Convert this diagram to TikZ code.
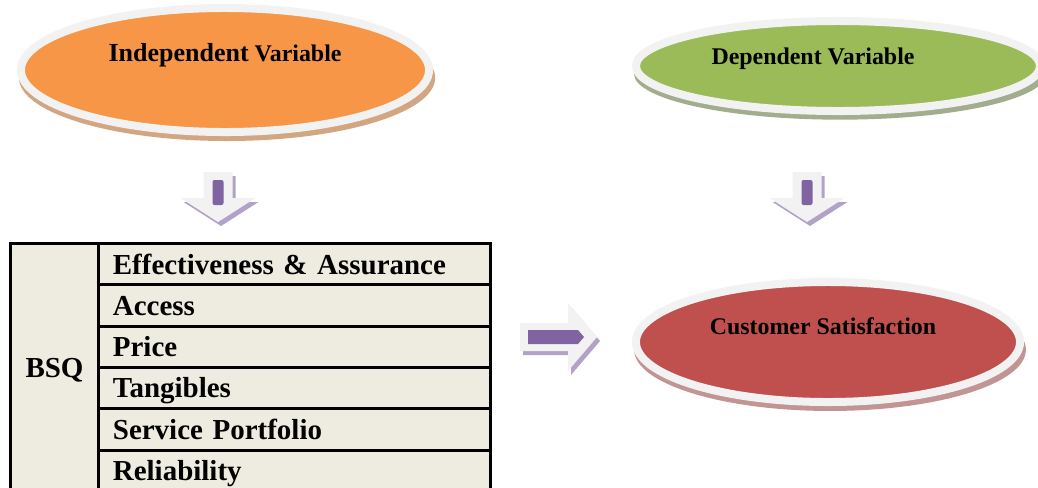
\documentclass[tikz,border=0pt]{standalone}
\usepackage{fontspec}
\setmainfont{Liberation Serif}
\usetikzlibrary{shapes.geometric,shadows}

\definecolor{ivorange}{HTML}{F79646}
\definecolor{dvgreen}{HTML}{9BBB59}
\definecolor{csred}{HTML}{C0504D}
\definecolor{ringgray}{HTML}{F2F2F2}
\definecolor{orangeshade}{HTML}{D3A682}
\definecolor{greenshade}{HTML}{A2AD8E}
\definecolor{redshade}{HTML}{C29494}
\definecolor{barpurple}{HTML}{8064A2}
\definecolor{arrowshade}{HTML}{B3A2C7}
\definecolor{paper}{HTML}{EEECE1}

\tikzset{
    oval/.style={ellipse, draw=ringgray, line width=0.2cm, inner sep=0pt},
    ovalshade/.style={general shadow={fill=#1, shadow xshift=0.05cm, shadow yshift=-0.19cm, shadow scale=1.02}},
    ovaltext/.style={font=\bfseries\fontsize{17}{20}\selectfont},
    box/.style={draw, line width=0.075cm, fill=paper, inner sep=0pt, anchor=north west,
        text height=1.45em, text depth=0.05em, font=\bfseries\fontsize{20.6}{24}\selectfont},
    cell/.style={box, inner xsep=0.36cm, text width=9.08cm, minimum height=1.0325cm, align=left},
    downarrow/.pic={
        \foreach \dx/\dy/\c in {3/4/arrowshade, 0/0/ringgray}
            \fill[\c, shift={(\dx,\dy)}] (-14.5,0) -- (14.5,0) -- (14.5,26) -- (37.5,26)
                -- (0,50) -- (-37.5,26) -- (-14.5,26) -- cycle;
        \fill[barpurple, rounded corners=0.05cm] (-5.5,8) rectangle (5.5,33);
    },
    rightarrow/.pic={
        \foreach \dx/\dy/\c in {3/4/arrowshade, 0/0/ringgray}
            \fill[\c, shift={(\dx,\dy)}] (0,-14) -- (48,-14) -- (48,-34) -- (77,0)
                -- (48,34) -- (48,14) -- (0,14) -- cycle;
        \fill[barpurple] (8,-7) -- (58,-7) -- (64,0) -- (58,7) -- (8,7) -- cycle;
    }
}

\begin{document}
\begin{tikzpicture}[x=0.025cm, y=-0.025cm]
    \useasboundingbox (0,0) rectangle (1038,487);

    % variables
    \node[oval, fill=ivorange, minimum width=10.2cm, minimum height=3.1cm, ovalshade=orangeshade,
        label={[ovaltext, yshift=0.37cm]center:{{\fontsize{18.5}{22}\selectfont Independent} Variable}}]
        (indep) at (225,70) {};
    \node[oval, fill=dvgreen, minimum width=10.1cm, minimum height=2.25cm, ovalshade=greenshade,
        label={[ovaltext, xshift=-0.625cm, yshift=0.17cm]center:Dependent Variable}]
        (dep) at (838,66) {};
    \node[oval, fill=csred, minimum width=9.6cm, minimum height=3cm, ovalshade=redshade,
        label={[ovaltext, xshift=-0.125cm, yshift=0.4cm]center:Customer Satisfaction}]
        (custsat) at (828,342) {};

    % arrows
    \pic at (218,172) {downarrow};
    \pic at (807,172) {downarrow};
    \pic at (520,337) {rightarrow};

    % BSQ table
    \node[box, minimum width=2.2cm, minimum height=6.2cm] (bsq) at (9,242) {BSQ};
    \foreach \t [count=\i] in {Effectiveness \& Assurance, Access, Price, Tangibles, Service Portfolio, Reliability}
        \node[cell] (row\i) at (97,{242+41.3*(\i-1)}) {\t};
\end{tikzpicture}
\end{document}
